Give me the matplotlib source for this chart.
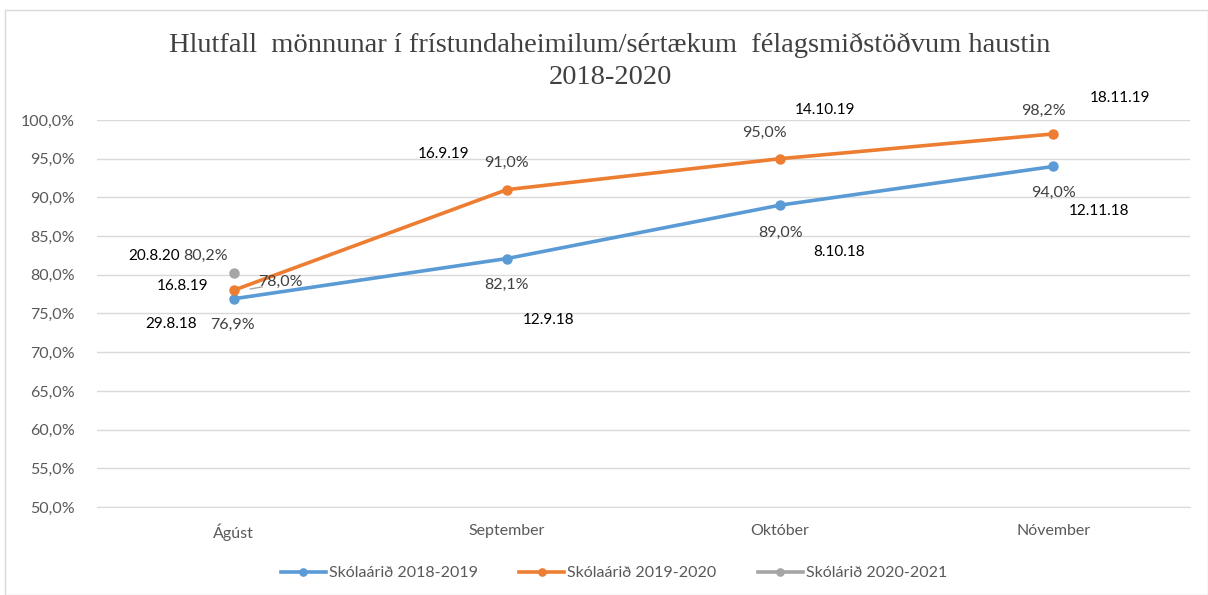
import matplotlib.pyplot as plt
from matplotlib.ticker import FuncFormatter
from matplotlib.patches import Rectangle

months = ["Ágúst", "September", "Október", "Nóvember"]
s2018 = [76.9, 82.1, 89.0, 94.0]
s2019 = [78.0, 91.0, 95.0, 98.2]
s2020 = [80.2]
d2018 = ["29.8.18", "12.9.18", "8.10.18", "12.11.18"]
d2019 = ["16.8.19", "16.9.19", "14.10.19", "18.11.19"]
d2020 = ["20.8.20"]
names = ["Skólaárið 2018-2019", "Skólaárið 2019-2020", "Skólárið 2020-2021"]

blue = "#5B9BD5"
orange = "#ED7D31"
grey = "#A5A5A5"
txt = "#404040"

plt.rcParams['font.family'] = ['Lato', 'DejaVu Sans']

fig = plt.figure(figsize=(12.08, 5.95), dpi=100)
fig.patches.append(Rectangle((5/1208, 0), 1 - 5/1208, 1 - 10/595, transform=fig.transFigure,
                             fill=False, edgecolor="#D9D9D9", lw=1))
ax = fig.add_axes([97/1208, 1 - 507/595, (1190 - 97)/1208, (507 - 120)/595])

x = list(range(len(months)))
ax.plot(x, s2018, color=blue, lw=2.6, marker="o", ms=6.5, label=names[0], zorder=3)
ax.plot(x, s2019, color=orange, lw=2.6, marker="o", ms=6.5, label=names[1], zorder=3)
ax.plot(x[:len(s2020)], s2020, color=grey, lw=2.6, marker="o", ms=6.5, label=names[2], zorder=3)

ax.set_xlim(-0.5, 3.5)
ax.set_ylim(50, 100)
ax.set_yticks(range(50, 101, 5))
ax.yaxis.set_major_formatter(FuncFormatter(lambda v, p: f"{v:.1f}%".replace(".", ",")))
ax.set_xticks(x)
ax.set_xticklabels(months)
ax.grid(axis="y", color="#D9D9D9", lw=1)
ax.set_axisbelow(True)
for s in ["top", "right", "left"]:
    ax.spines[s].set_visible(False)
ax.spines["bottom"].set_color("#D9D9D9")
ax.tick_params(length=0, labelsize=11.5, colors="#595959", pad=12)
ax.tick_params(axis="y", pad=16)

# label offsets in pixels (value label, date label)
off18 = [((-1, -26), (-63, -25)), ((0, -26), (42, -61)), ((0, -28), (59, -47)), ((0, -26), (46, -45))]
off19 = [((47, 8), (-51, 4)), ((0, 27), (-63, 36)), ((-16, 26), (45, 49)), ((-10, 23), (67, 36))]
off20 = [((-28, 17), (-80, 17))]

def labels(vals, dates, offs):
    for i, (v, d, (o1, o2)) in enumerate(zip(vals, dates, offs)):
        ax.annotate(f"{v:.1f}%".replace(".", ","), (i, v), xytext=o1, textcoords="offset pixels",
                    ha="center", va="center", fontsize=11.5, color=txt)
        ax.annotate(d, (i, v), xytext=o2, textcoords="offset pixels",
                    ha="center", va="center", fontsize=11, color="black")

labels(s2018, d2018, off18)
labels(s2019, d2019, off19)
labels(s2020, d2020, off20)
ax.annotate("", (0.115, 78.5), xytext=(0.05, 78.1), arrowprops=dict(arrowstyle="-", color="#A6A6A6", lw=1))

fig.text(610/1208, 1 - 45/595, "Hlutfall  mönnunar í frístundaheimilum/sértækum  félagsmiðstöðvum haustin",
         ha="center", va="center", fontsize=20.5, color="#404040", family="Liberation Serif")
fig.text(610/1208, 1 - 78/595, "2018-2020", ha="center", va="center", fontsize=20.5,
         color="#404040", family="Liberation Serif")

fig.legend(loc="center", bbox_to_anchor=(614/1208, 1 - 573/595), ncol=3, frameon=False,
           fontsize=11.5, labelcolor="#595959", handlelength=2.8, columnspacing=2.6,
           handletextpad=0.2, markerscale=0.8)

fig.savefig("out.png", dpi=100)
